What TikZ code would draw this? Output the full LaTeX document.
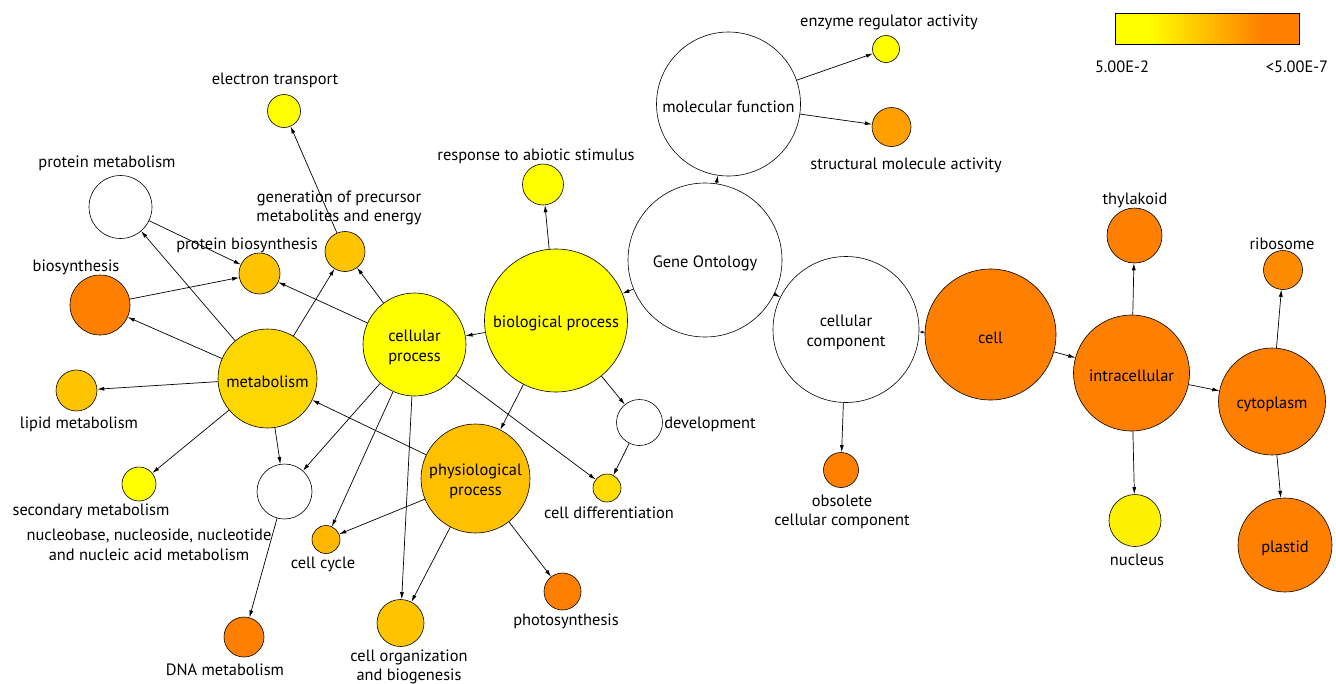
\documentclass[tikz,border=0pt]{standalone}
\usepackage{fontspec}
\setmainfont{PT Sans}
\usetikzlibrary{arrows.meta}
\definecolor{cY}{HTML}{FFFF00}
\definecolor{cY2}{HTML}{FFF200}
\definecolor{cMet}{HTML}{FFD700}
\definecolor{cDiff}{HTML}{FFDD00}
\definecolor{cG}{HTML}{FFC400}
\definecolor{cPh}{HTML}{FFC000}
\definecolor{cCC}{HTML}{FFB700}
\definecolor{cSM}{HTML}{FFA000}
\definecolor{cRib}{HTML}{FF8C00}
\definecolor{cO}{HTML}{FF8000}
\tikzset{
  go/.style={circle, draw=black, line width=0.6pt, inner sep=0pt},
  lbl/.style={inner sep=0pt, align=center, font=\fontsize{16.4}{19.5}\selectfont},
  inlbl/.style={lbl, yshift=-3pt},
  edge/.style={line width=0.7pt, -{Latex[length=7pt,width=4pt]}},
}
\newcommand{\gon}[5]{\node[go, minimum size=#4pt, fill=#5] (#1) at (#2,#3) {};}
\begin{document}
\begin{tikzpicture}[x=1pt,y=-1pt]
\useasboundingbox (0,0) rectangle (1336,683);
% nodes
\node[go, minimum size=154pt, fill=white, label={[inlbl]center:Gene Ontology}] (GO) at (705,260) {};
\node[go, minimum size=144pt, fill=white, label={[inlbl]center:molecular function}] (MF) at (728.5,104) {};
\node[go, minimum size=146pt, fill=white, label={[inlbl]center:{cellular\\component}}] (CC) at (846,329.5) {};
\node[go, minimum size=143pt, fill=cY, label={[inlbl]center:biological process}] (BP) at (556,320.5) {};
\node[go, minimum size=103pt, fill=cY, label={[inlbl]center:{cellular\\process}}] (CP) at (414.5,344.5) {};
\node[go, minimum size=109pt, fill=cPh, label={[inlbl]center:{physiological\\process}}] (PP) at (475.5,478.5) {};
\node[go, minimum size=99pt, fill=cMet, label={[inlbl]center:metabolism}] (MET) at (267.5,378.5) {};
\node[go, minimum size=131pt, fill=cO, label={[inlbl]center:cell}] (CELL) at (990.5,334.5) {};
\node[go, minimum size=116pt, fill=cO, label={[inlbl]center:intracellular}] (IC) at (1131.5,373) {};
\node[go, minimum size=107pt, fill=cO, label={[inlbl]center:cytoplasm}] (CYT) at (1272,401.5) {};
\node[go, minimum size=94pt, fill=cO, label={[inlbl]center:plastid}] (PLA) at (1285,545) {};
\gon{THY}{1134.5}{235.5}{55}{cO}
\gon{RIB}{1283}{270}{39}{cRib}
\gon{NUC}{1135}{520.5}{52}{cY2}
\gon{OBS}{841}{470}{35}{cO}
\gon{ENZ}{886}{49}{27}{cY}
\gon{SMA}{891.5}{127}{39}{cSM}
\gon{RAS}{543}{184.5}{41}{cY}
\gon{DEV}{639.5}{422.5}{46}{white}
\gon{DIFF}{607}{488}{28}{cDiff}
\gon{PHO}{562.5}{591.5}{37}{cO}
\gon{ORG}{400.5}{623}{47}{cG}
\gon{CYC}{326}{539.5}{28}{cCC}
\gon{NUB}{284.5}{491.5}{55}{white}
\gon{DNA}{244}{637}{40}{cO}
\gon{SEC}{139}{484}{34}{cY}
\gon{LIP}{76.5}{390.5}{41}{cG}
\gon{BIO}{100}{305}{60}{cO}
\gon{PMET}{120.5}{207}{63}{white}
\gon{PBIO}{259.5}{273.5}{41}{cG}
\gon{GEN}{345}{251.5}{40}{cG}
\gon{ET}{284}{111}{33}{cY}
% labels
\node[lbl] (lET) at (275,80) {electron transport};
\node[lbl] (lPMET) at (107,163) {protein metabolism};
\node[lbl] (lGEN) at (339,208) {generation of precursor\\metabolites and energy};
\node[lbl] (lPBIO) at (247,245) {protein biosynthesis};
\node[lbl] (lBIO) at (76,267) {biosynthesis};
\node[lbl] (lLIP) at (79,424) {lipid metabolism};
\node[lbl] (lSEC) at (91,511) {secondary metabolism};
\node[lbl] (lNUB) at (149,545) {nucleobase, nucleoside, nucleotide\\and nucleic acid metabolism};
\node[lbl] (lCYC) at (323,564) {cell cycle};
\node[lbl] (lDNA) at (225,670) {DNA metabolism};
\node[lbl] (lORG) at (409,667) {cell organization\\and biogenesis};
\node[lbl] (lPHO) at (566,621) {photosynthesis};
\node[lbl] (lDIFF) at (609,513) {cell differentiation};
\node[lbl] (lDEV) at (710,424) {development};
\node[lbl] (lRAS) at (536,156) {response to abiotic stimulus};
\node[lbl] (lENZ) at (889,22) {enzyme regulator activity};
\node[lbl] (lSMA) at (906,165) {structural molecule activity};
\node[lbl] (lOBS) at (842,512) {obsolete\\cellular component};
\node[lbl] (lTHY) at (1135,200) {thylakoid};
\node[lbl] (lRIB) at (1282,244) {ribosome};
\node[lbl] (lNUC) at (1137,560) {nucleus};
% edges
\draw[edge] (GO) -- (MF);
\draw[edge] (GO) -- (BP);
\draw[edge] (GO) -- (CC);
\draw[edge] (MF) -- (ENZ);
\draw[edge] (MF) -- (SMA);
\draw[edge] (BP) -- (RAS);
\draw[edge] (BP) -- (CP);
\draw[edge] (BP) -- (PP);
\draw[edge] (BP) -- (DEV);
\draw[edge] (DEV) -- (DIFF);
\draw[edge] (CP) -- (DIFF);
\draw[edge] (CP) -- (GEN);
\draw[edge] (CP) -- (PBIO);
\draw[edge] (CP) -- (NUB);
\draw[edge] (CP) -- (CYC);
\draw[edge] (CP) -- (ORG);
\draw[edge] (PP) -- (MET);
\draw[edge] (PP) -- (CYC);
\draw[edge] (PP) -- (ORG);
\draw[edge] (PP) -- (PHO);
\draw[edge] (MET) -- (PMET);
\draw[edge] (MET) -- (BIO);
\draw[edge] (MET) -- (LIP);
\draw[edge] (MET) -- (SEC);
\draw[edge] (MET) -- (NUB);
\draw[edge] (MET) -- (GEN);
\draw[edge] (PMET) -- (PBIO);
\draw[edge] (BIO) -- (PBIO);
\draw[edge] (GEN) -- (ET);
\draw[edge] (NUB) -- (DNA);
\draw[edge] (CC) -- (OBS);
\draw[line width=0.7pt, -{Latex[length=4pt,width=3pt]}] (CELL) -- (CC);
\draw[edge] (CELL) -- (IC);
\draw[edge] (IC) -- (THY);
\draw[edge] (IC) -- (NUC);
\draw[edge] (IC) -- (CYT);
\draw[edge] (CYT) -- (RIB);
\draw[edge] (CYT) -- (PLA);
% legend
\fill[cY] (1115,13) rectangle (1149,44);
\shade[left color=cY, right color=cO] (1148.5,13) rectangle (1261.5,44);
\fill[cO] (1261,13) rectangle (1299,44);
\node[draw=black, line width=0.6pt, minimum width=184pt, minimum height=31pt, inner sep=0pt] (legend) at (1207,28.5) {};
\node[lbl] (lmin) at (1122,67) {5.00E-2};
\node[lbl] (lmax) at (1297,67) {<5.00E-7};
\end{tikzpicture}
\end{document}
